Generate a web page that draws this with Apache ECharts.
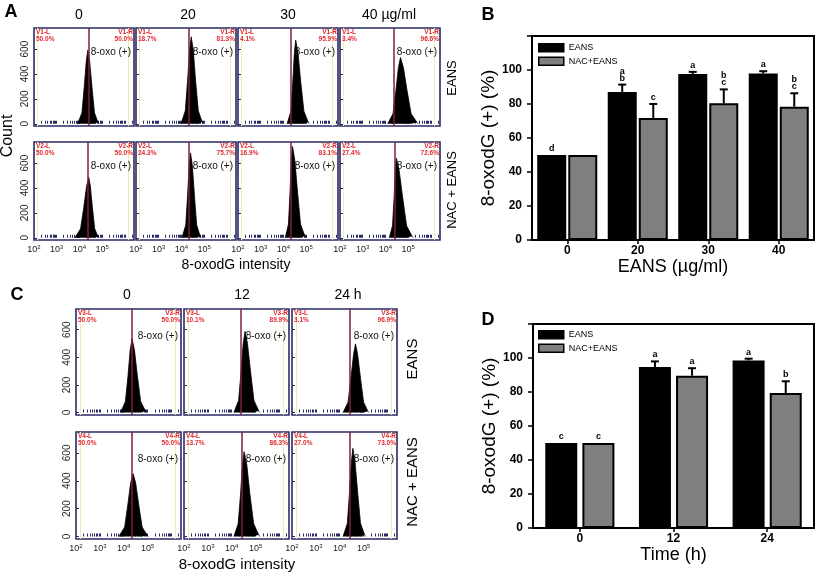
<!DOCTYPE html>
<html><head><meta charset="utf-8">
<script src="https://cdn.jsdelivr.net/npm/echarts@6/dist/echarts.min.js"></script>
<style>html,body{margin:0;padding:0;background:#fff}#c{width:820px;height:576px}</style>
</head><body><div id="c"></div>
<script>
// ===================== DATA =====================
// Panel A: dose titles, panel C: time titles
const doseTitles = ['0', '20', '30', '40 µg/ml'];
const timeTitles = ['0', '12', '24 h'];
// histogram x tick labels (exponent of 10) and y tick values
const xTickExponents = [2, 3, 4, 5];
const yTickValues = [0, 200, 400, 600];

// Histograms: [log10(8-oxodG intensity), count]
const histA_EANS = [
  [[3.92,0],[3.97,12],[4.11,89],[4.21,296],[4.30,503],[4.37,592],[4.45,503],[4.55,296],[4.66,89],[4.81,12],[4.86,0]],
  [[3.98,0],[4.03,14],[4.17,105],[4.27,350],[4.36,594],[4.43,699],[4.52,594],[4.62,350],[4.74,105],[4.91,14],[4.96,0]],
  [[4.16,0],[4.21,13],[4.33,101],[4.41,336],[4.48,571],[4.54,672],[4.64,571],[4.76,336],[4.90,101],[5.09,13],[5.14,0]],
  [[4.10,0],[4.15,11],[4.33,80],[4.46,267],[4.57,453],[4.66,533],[4.79,453],[4.95,267],[5.13,80],[5.39,11],[5.44,0]]
];
const histA_NAC = [
  [[3.80,0],[3.85,10],[4.05,73],[4.19,243],[4.31,413],[4.41,486],[4.48,413],[4.57,243],[4.67,73],[4.81,10],[4.86,0]],
  [[4.02,0],[4.07,14],[4.19,102],[4.27,341],[4.34,580],[4.40,682],[4.48,580],[4.57,341],[4.67,102],[4.82,14],[4.87,0]],
  [[4.08,0],[4.13,15],[4.22,110],[4.29,367],[4.35,623],[4.40,733],[4.50,623],[4.62,367],[4.75,110],[4.94,15],[4.99,0]],
  [[4.17,0],[4.22,13],[4.31,96],[4.38,320],[4.43,544],[4.48,640],[4.60,544],[4.76,320],[4.93,96],[5.17,13],[5.22,0]]
];
const histC_EANS = [
  [[3.87,0],[3.92,11],[4.07,80],[4.18,267],[4.27,453],[4.35,533],[4.45,453],[4.57,267],[4.71,80],[4.91,11],[4.96,0]],
  [[4.09,0],[4.14,12],[4.29,88],[4.39,294],[4.48,500],[4.56,588],[4.66,500],[4.79,294],[4.93,88],[5.13,12],[5.18,0]],
  [[4.14,0],[4.19,10],[4.35,75],[4.47,249],[4.58,422],[4.66,497],[4.75,422],[4.87,249],[5.00,75],[5.18,10],[5.23,0]]
];
const histC_NAC = [
  [[3.80,0],[3.85,9],[4.04,68],[4.17,226],[4.29,384],[4.39,452],[4.50,384],[4.63,226],[4.77,68],[4.98,9],[5.03,0]],
  [[4.09,0],[4.14,12],[4.27,91],[4.37,305],[4.45,518],[4.52,609],[4.63,518],[4.76,305],[4.92,91],[5.13,12],[5.18,0]],
  [[4.14,0],[4.19,13],[4.32,95],[4.41,317],[4.49,538],[4.55,633],[4.64,538],[4.75,317],[4.87,95],[5.04,13],[5.09,0]]
];
// gate positions (log10 intensity)
const gateA_EANS = [4.41, 4.32, 4.31, 4.37];
const gateA_NAC  = [4.38, 4.34, 4.31, 4.40];
const gateC_EANS = [4.35, 4.39, 4.40];
const gateC_NAC  = [4.35, 4.42, 4.44];
// gate region percentages
const pctA_EANS_L = ['50.0%', '18.7%', '4.1%', '3.4%'];
const pctA_EANS_R = ['50.0%', '81.3%', '95.9%', '96.6%'];
const pctA_NAC_L  = ['50.0%', '24.3%', '16.9%', '27.4%'];
const pctA_NAC_R  = ['50.0%', '75.7%', '83.1%', '72.6%'];
const pctC_EANS_L = ['50.0%', '10.1%', '3.1%'];
const pctC_EANS_R = ['50.0%', '89.9%', '96.9%'];
const pctC_NAC_L  = ['50.0%', '13.7%', '27.0%'];
const pctC_NAC_R  = ['50.0%', '86.3%', '73.0%'];

// Panel B
const doseCats = ['0', '20', '30', '40'];
const eansB    = [50, 87.0, 97.6, 98.0];
const eansBErr = [0, 4.4, 1.3, 1.3];
const nacB     = [50, 71.8, 80.4, 78.4];
const nacBErr  = [0, 8.2, 8.2, 7.9];
const eansBLetters = ['d', 'a\nb', 'a', 'a'];
const nacBLetters  = ['', 'c', 'b\nc', 'b\nc'];
// Panel D
const timeCats = ['0', '12', '24'];
const eansD    = [50, 94.7, 98.6];
const eansDErr = [0, 3.3, 1.0];
const nacD     = [50, 89.6, 79.4];
const nacDErr  = [0, 4.4, 6.9];
const eansDLetters = ['c', 'a', 'a'];
const nacDLetters  = ['c', 'a', 'b'];

// ===================== STYLE / LAYOUT =====================
const FONT = '"Liberation Sans", Arial, sans-serif';
const X_MIN = 2.0, X_MAX = 6.4;
const FRAME = '#2a2a66', GATE = '#7d1f3e', RED = '#e3262c', YEL = '#f2ebb8';

const grids = [], xAxes = [], yAxes = [], series = [], graphics = [];

function T(text, x, y, o) {
  o = o || {};
  graphics.push({
    type: 'text', x: x, y: y, rotation: o.rot || 0, z: 100, silent: true,
    style: {
      text: text, fill: o.color || '#000',
      font: (o.weight || 'normal') + ' ' + (o.size || 12) + 'px ' + FONT,
      align: o.align || 'center', verticalAlign: o.va || 'middle',
      lineHeight: o.lh || undefined
    }
  });
}

const minorTicks = [];
for (let n = 2; n <= 6; n++) for (let k = 1; k <= 9; k++) {
  const v = n + Math.log10(k);
  if (v > X_MIN && v < X_MAX) minorTicks.push(v);
}

function addHist(box, pts, gate, gname, pL, pR, showY, showX, yMax, oxoDy) {
  const gi = grids.length;
  grids.push({ left: box.l, top: box.t, width: box.w, height: box.h, show: true,
    borderColor: FRAME, borderWidth: 1.6, backgroundColor: '#fff' });
  xAxes.push({
    gridIndex: gi, type: 'value', min: X_MIN, max: X_MAX,
    axisLine: { show: false }, splitLine: { show: false },
    axisTick: { show: true, inside: true, length: 3, customValues: minorTicks, lineStyle: { color: FRAME, width: 1 } },
    axisLabel: {
      show: showX, customValues: xTickExponents, margin: 4, color: '#222',
      formatter: v => '{b|10}{s|' + Math.round(v) + '}',
      rich: { b: { fontSize: 9, fontFamily: FONT, color: '#222' },
              s: { fontSize: 6, fontFamily: FONT, color: '#222', verticalAlign: 'top', padding: [0, 0, 5, 0] } }
    }
  });
  yAxes.push({
    gridIndex: gi, type: 'value', min: -18, max: yMax,
    axisLine: { show: false }, splitLine: { show: false },
    axisTick: { show: true, inside: true, length: 3, customValues: yTickValues, lineStyle: { color: FRAME } },
    axisLabel: { show: showY, customValues: yTickValues, rotate: 90, fontSize: 10, fontFamily: FONT, color: '#222', margin: 4 }
  });
  series.push({
    type: 'line', name: 'hist' + gi, xAxisIndex: gi, yAxisIndex: gi, data: pts,
    symbol: 'none', silent: true, animation: false,
    lineStyle: { color: '#000', width: 0.8 }, areaStyle: { color: '#000', opacity: 1 },
    markLine: {
      silent: true, symbol: ['none', 'none'], animation: false, label: { show: false },
      data: [
        { xAxis: 2.16, lineStyle: { color: YEL, width: 1, type: 'solid' } },
        { xAxis: 6.14, lineStyle: { color: YEL, width: 1, type: 'solid' } },
        { xAxis: gate, lineStyle: { color: GATE, width: 1.5, type: 'solid' } }
      ]
    }
  });
  T(gname + '-L\n' + pL, box.l + 2, box.t + 1, { color: RED, size: 6.5, weight: 'bold', align: 'left', va: 'top', lh: 7 });
  T(gname + '-R\n' + pR, box.l + box.w - 1, box.t + 1, { color: RED, size: 6.5, weight: 'bold', align: 'right', va: 'top', lh: 7 });
  T('8-oxo (+)', box.l + box.w - 3, box.t + oxoDy, { size: 10, align: 'right', color: '#111' });
}

// Panel A
const aLefts = [34, 136, 238, 340], aW = 100, aTops = [28, 142], aH = 98;
for (let i = 0; i < 4; i++) {
  addHist({ l: aLefts[i], t: aTops[0], w: aW, h: aH }, histA_EANS[i], gateA_EANS[i], 'V1', pctA_EANS_L[i], pctA_EANS_R[i], i === 0, false, 770, 24);
  addHist({ l: aLefts[i], t: aTops[1], w: aW, h: aH }, histA_NAC[i], gateA_NAC[i], 'V2', pctA_NAC_L[i], pctA_NAC_R[i], i === 0, true, 770, 24);
}
// Panel C
const cLefts = [76, 184, 292], cW = 105, cTops = [309, 432], cH = [106, 107];
for (let i = 0; i < 3; i++) {
  addHist({ l: cLefts[i], t: cTops[0], w: cW, h: cH[0] }, histC_EANS[i], gateC_EANS[i], 'V3', pctC_EANS_L[i], pctC_EANS_R[i], i === 0, false, 750, 27);
  addHist({ l: cLefts[i], t: cTops[1], w: cW, h: cH[1] }, histC_NAC[i], gateC_NAC[i], 'V4', pctC_NAC_L[i], pctC_NAC_R[i], i === 0, true, 750, 27);
}

// text for A and C
const aTitleX = [79, 188, 288, 389];
doseTitles.forEach((t, i) => T(t, aTitleX[i], 15, { size: 14 }));
const cTitleX = [127, 242, 348];
timeTitles.forEach((t, i) => T(t, cTitleX[i], 295, { size: 14 }));
T('A', 11, 12, { size: 18, weight: 'bold' });
T('C', 17, 295, { size: 18, weight: 'bold' });
T('B', 488, 15, { size: 18, weight: 'bold' });
T('D', 488, 320, { size: 18, weight: 'bold' });
T('Count', 8, 136, { size: 16, rot: Math.PI / 2 });
T('EANS', 452, 78, { size: 13, rot: Math.PI / 2 });
T('NAC + EANS', 452, 190, { size: 13, rot: Math.PI / 2 });
T('EANS', 413, 359, { size: 15, rot: Math.PI / 2 });
T('NAC + EANS', 413, 482, { size: 15, rot: Math.PI / 2 });
T('8-oxodG intensity', 236, 265, { size: 14 });
T('8-oxodG intensity', 237, 565, { size: 15 });

// ============== bar panels ==============
function addBars(box, cats, e, eErr, n, nErr, eLet, nLet, xName, bw, gapPct) {
  const gi = grids.length;
  grids.push({ left: box.l, top: box.t, width: box.w, height: box.h, show: true, borderColor: '#000', borderWidth: 2 });
  xAxes.push({
    gridIndex: gi, type: 'category', data: cats,
    axisLine: { show: true, lineStyle: { color: '#000', width: 2 } },
    axisTick: { show: true, alignWithLabel: true, length: 4, lineStyle: { color: '#000', width: 1.5 } },
    axisLabel: { fontSize: 12, fontWeight: 'bold', fontFamily: FONT, color: '#000', margin: 5 },
    name: xName, nameLocation: 'middle', nameGap: 18,
    nameTextStyle: { fontSize: 18, fontFamily: FONT, color: '#000', verticalAlign: 'top' }
  });
  yAxes.push({
    gridIndex: gi, type: 'value', min: 0, max: 120, interval: 20,
    axisLine: { show: true, lineStyle: { color: '#000', width: 2 } },
    axisTick: { show: true, length: 5, lineStyle: { color: '#000', width: 1.5 } },
    axisLabel: { fontSize: 12, fontWeight: 'bold', fontFamily: FONT, color: '#000', margin: 10,
                 formatter: v => (v === 120 ? '' : String(v)) },
    splitLine: { show: false },
    name: '8-oxodG (+) (%)', nameLocation: 'middle', nameGap: 30,
    nameTextStyle: { fontSize: 19, fontFamily: FONT, color: '#000' }
  });
  const common = { type: 'bar', xAxisIndex: gi, yAxisIndex: gi, barWidth: bw, barGap: gapPct + '%', animation: false };
  series.push(Object.assign({}, common, { name: 'EANS', data: e, itemStyle: { color: '#000', borderColor: '#000', borderWidth: 2 } }));
  series.push(Object.assign({}, common, { name: 'NAC+EANS', data: n, itemStyle: { color: '#7f7f7f', borderColor: '#000', borderWidth: 2 } }));
  const off = (bw + bw * gapPct / 100) / 2;
  function errSeries(vals, errs, lets, sign) {
    return {
      type: 'custom', xAxisIndex: gi, yAxisIndex: gi, z: 5, silent: true, animation: false,
      data: vals.map((v, i) => [i, v + errs[i]]),
      renderItem: function (params, api) {
        const i = params.dataIndex;
        const base = api.coord([i, vals[i]]);
        const top = api.coord([i, vals[i] + errs[i]]);
        const x = base[0] + sign * off;
        const ch = [];
        if (errs[i] > 0) {
          ch.push({ type: 'line', shape: { x1: x, y1: base[1], x2: x, y2: top[1] }, style: { stroke: '#000', lineWidth: 2 } });
          ch.push({ type: 'line', shape: { x1: x - 4, y1: top[1], x2: x + 4, y2: top[1] }, style: { stroke: '#000', lineWidth: 2 } });
        }
        if (lets[i]) {
          ch.push({ type: 'text', x: x, y: top[1] - 3,
            style: { text: lets[i], font: 'bold 9px ' + FONT, fill: '#000', align: 'center', verticalAlign: 'bottom', lineHeight: 7 } });
        }
        return { type: 'group', children: ch };
      }
    };
  }
  series.push(errSeries(e, eErr, eLet, -1));
  series.push(errSeries(n, nErr, nLet, 1));
}
addBars({ l: 532, t: 36, w: 282, h: 204 }, doseCats, eansB, eansBErr, nacB, nacBErr, eansBLetters, nacBLetters, 'EANS (µg/ml)', 29, 7);
addBars({ l: 533, t: 324, w: 281, h: 204 }, timeCats, eansD, eansDErr, nacD, nacDErr, eansDLetters, nacDLetters, 'Time (h)', 32, 16);

const legendCommon = {
  orient: 'vertical', itemWidth: 25, itemHeight: 8, itemGap: 4, selectedMode: false,
  icon: 'rect', data: ['EANS', 'NAC+EANS'],
  itemStyle: { borderColor: '#000', borderWidth: 1.5 },
  textStyle: { fontSize: 9, fontFamily: FONT, color: '#000' }, padding: 0
};
const chart = echarts.init(document.getElementById('c'), null, { renderer: 'canvas' });
chart.setOption({
  animation: false,
  backgroundColor: '#fff',
  grid: grids, xAxis: xAxes, yAxis: yAxes, series: series,
  legend: [Object.assign({ left: 538, top: 43 }, legendCommon), Object.assign({ left: 538, top: 330 }, legendCommon)],
  graphic: { elements: graphics }
});
</script></body></html>
